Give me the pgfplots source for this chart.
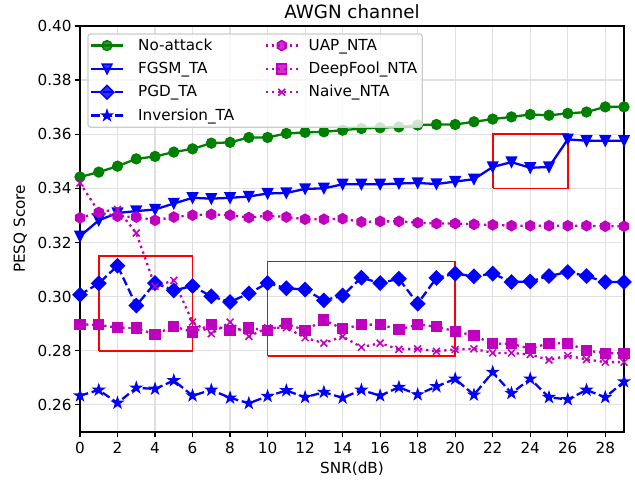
\documentclass[border=0pt]{standalone}
\usepackage{fontspec}
\setmainfont{DejaVu Sans}
\usepackage{pgfplots}
\pgfplotsset{compat=1.18}

\definecolor{mgreen}{rgb}{0,0.5,0}
\definecolor{mblue}{rgb}{0,0,1}
\definecolor{mmag}{rgb}{0.75,0,0.75}
\definecolor{gridc}{rgb}{0.88,0.88,0.88}
\definecolor{legc}{rgb}{0.8,0.8,0.8}

\pgfdeclareplotmark{fstar}{%
  \pgfpathmoveto{\pgfpointpolar{90}{\pgfplotmarksize}}%
  \pgfpathlineto{\pgfpointpolar{126}{0.382\pgfplotmarksize}}%
  \pgfpathlineto{\pgfpointpolar{162}{\pgfplotmarksize}}%
  \pgfpathlineto{\pgfpointpolar{198}{0.382\pgfplotmarksize}}%
  \pgfpathlineto{\pgfpointpolar{234}{\pgfplotmarksize}}%
  \pgfpathlineto{\pgfpointpolar{270}{0.382\pgfplotmarksize}}%
  \pgfpathlineto{\pgfpointpolar{306}{\pgfplotmarksize}}%
  \pgfpathlineto{\pgfpointpolar{342}{0.382\pgfplotmarksize}}%
  \pgfpathlineto{\pgfpointpolar{18}{\pgfplotmarksize}}%
  \pgfpathlineto{\pgfpointpolar{54}{0.382\pgfplotmarksize}}%
  \pgfpathclose\pgfusepathqfillstroke}
\pgfdeclareplotmark{hexa}{%
  \pgfpathmoveto{\pgfpointpolar{90}{\pgfplotmarksize}}%
  \pgfpathlineto{\pgfpointpolar{150}{\pgfplotmarksize}}%
  \pgfpathlineto{\pgfpointpolar{210}{\pgfplotmarksize}}%
  \pgfpathlineto{\pgfpointpolar{270}{\pgfplotmarksize}}%
  \pgfpathlineto{\pgfpointpolar{330}{\pgfplotmarksize}}%
  \pgfpathlineto{\pgfpointpolar{30}{\pgfplotmarksize}}%
  \pgfpathclose\pgfusepathqfillstroke}
\pgfdeclareplotmark{tdown}{%
  \pgfpathmoveto{\pgfpoint{0pt}{-\pgfplotmarksize}}%
  \pgfpathlineto{\pgfpoint{-\pgfplotmarksize}{\pgfplotmarksize}}%
  \pgfpathlineto{\pgfpoint{\pgfplotmarksize}{\pgfplotmarksize}}%
  \pgfpathclose\pgfusepathqfillstroke}

\pgfplotsset{
  sNo/.style={color=mgreen, solid, line width=1.65bp, mark=*, mark size=3.5bp, mark options={solid, fill=mgreen, line width=1.1bp}},
  sFG/.style={color=mblue, solid, line width=1.65bp, mark=tdown, mark size=3.5bp, mark options={solid, fill=mblue, line width=1.1bp}},
  sPG/.style={color=mblue, dash pattern=on 6.1bp off 2.64bp, line width=1.65bp, mark=square*, mark size=3.5bp, mark options={solid, rotate=45, fill=mblue, line width=1.1bp}},
  sIN/.style={color=mblue, dash pattern=on 6.1bp off 2.64bp, line width=1.65bp, mark=fstar, mark size=3.6bp, mark options={solid, fill=mblue, line width=1.1bp}},
  sUA/.style={color=mmag, dash pattern=on 1.65bp off 2.72bp, line width=1.65bp, mark=hexa, mark size=3.6bp, mark options={solid, fill=mmag, line width=1.1bp}},
  sDF/.style={color=mmag, dash pattern=on 1.65bp off 2.72bp, line width=1.65bp, mark=square*, mark size=3.5bp, mark options={solid, fill=mmag, line width=1.1bp}},
  sNA/.style={color=mmag, dash pattern=on 1.65bp off 2.72bp, line width=1.65bp, mark=x, mark size=3.5bp, mark options={solid, line width=1.1bp}},
}

\begin{document}
\begin{tikzpicture}
\begin{axis}[
  scale only axis,
  width=391.7bp, height=292.3bp,
  xmin=0, xmax=29, ymin=0.25, ymax=0.40,
  clip=false,
  xtick={0,2,...,28},
  ytick={0.26,0.28,0.30,0.32,0.34,0.36,0.38,0.40},
  scaled y ticks=false,
  yticklabel style={inner xsep=2bp, /pgf/number format/.cd, fixed, fixed zerofill, precision=2},
  /pgf/number format/assume math mode=true,
  tick align=outside, xtick pos=left, ytick pos=left,
  major tick length=3.85bp,
  tick style={black, line width=0.88bp},
  axis line style={black, line width=0.88bp},
  grid=major, major grid style={gridc, line width=0.88bp},
  font=\fontsize{11}{13}\selectfont,
  title={AWGN channel},
  every axis title/.style={at={(axis description cs:0.5,1)}, anchor=base, yshift=5.2bp, font=\fontsize{13.2}{15}\selectfont},
  xlabel={SNR(dB)},
  xlabel style={at={(axis description cs:0.5,-0.1016)}, anchor=base},
  ylabel={PESQ Score},
  ylabel style={at={(axis description cs:-0.1011,0.5)}, anchor=base},
  legend columns=2,
  legend cell align=left,
  legend image code/.code={\draw[sharp corners, mark repeat=2, mark phase=2, #1] plot coordinates {(0bp,0bp) (11.4bp,0bp) (22.8bp,0bp)}; \path (28bp,0bp);},
  legend style={at={(axis description cs:0.0135,0.982)}, anchor=north west,
    draw=legc, line width=0.88bp, rounded corners=2bp, fill=white, fill opacity=0.8, text opacity=1,
    font=\fontsize{11}{13}\selectfont, inner sep=1.5bp, row sep=3bp,
    /tikz/every even column/.append style={column sep=20bp}},
]

\addplot[sNo, forget plot] coordinates {(0,0.3442)(1,0.3460)(2,0.3482)(3,0.3509)(4,0.3518)(5,0.3534)(6,0.3546)(7,0.3567)(8,0.3570)(9,0.3588)(10,0.3588)(11,0.3603)(12,0.3607)(13,0.3609)(14,0.3615)(15,0.3621)(16,0.3624)(17,0.3627)(18,0.3634)(19,0.3636)(20,0.3636)(21,0.3646)(22,0.3656)(23,0.3664)(24,0.3673)(25,0.3670)(26,0.3677)(27,0.3682)(28,0.3701)(29,0.3701)};

\addplot[sFG, forget plot] coordinates {(0,0.3223)(1,0.3282)(2,0.3309)(3,0.3316)(4,0.3322)(5,0.3344)(6,0.3365)(7,0.3362)(8,0.3365)(9,0.3370)(10,0.3381)(11,0.3383)(12,0.3398)(13,0.3400)(14,0.3415)(15,0.3415)(16,0.3415)(17,0.3418)(18,0.3420)(19,0.3416)(20,0.3425)(21,0.3434)(22,0.3479)(23,0.3497)(24,0.3476)(25,0.3479)(26,0.3581)(27,0.3576)(28,0.3576)(29,0.3576)};

\addplot[sPG, forget plot] coordinates {(0,0.3007)(1,0.3049)(2,0.3114)(3,0.2967)(4,0.3050)(5,0.3023)(6,0.3039)(7,0.3001)(8,0.2980)(9,0.3012)(10,0.3050)(11,0.3031)(12,0.3026)(13,0.2986)(14,0.3004)(15,0.3070)(16,0.3050)(17,0.3066)(18,0.2974)(19,0.3069)(20,0.3085)(21,0.3075)(22,0.3085)(23,0.3054)(24,0.3056)(25,0.3076)(26,0.3091)(27,0.3076)(28,0.3054)(29,0.3054)};

\addplot[sIN, forget plot] coordinates {(0,0.2634)(1,0.2655)(2,0.2607)(3,0.2663)(4,0.2659)(5,0.2690)(6,0.2634)(7,0.2655)(8,0.2626)(9,0.2606)(10,0.2632)(11,0.2653)(12,0.2628)(13,0.2647)(14,0.2626)(15,0.2655)(16,0.2634)(17,0.2665)(18,0.2638)(19,0.2668)(20,0.2696)(21,0.2637)(22,0.2721)(23,0.2643)(24,0.2696)(25,0.2628)(26,0.2620)(27,0.2655)(28,0.2628)(29,0.2686)};

\addplot[sUA, forget plot] coordinates {(0,0.3291)(1,0.3311)(2,0.3297)(3,0.3294)(4,0.3282)(5,0.3294)(6,0.3301)(7,0.3304)(8,0.3301)(9,0.3292)(10,0.3299)(11,0.3294)(12,0.3286)(13,0.3286)(14,0.3288)(15,0.3276)(16,0.3278)(17,0.3278)(18,0.3273)(19,0.3270)(20,0.3270)(21,0.3267)(22,0.3265)(23,0.3262)(24,0.3262)(25,0.3262)(26,0.3262)(27,0.3262)(28,0.3260)(29,0.3260)};

\addplot[sDF, forget plot] coordinates {(0,0.2897)(1,0.2896)(2,0.2885)(3,0.2884)(4,0.2860)(5,0.2890)(6,0.2869)(7,0.2896)(8,0.2875)(9,0.2884)(10,0.2875)(11,0.2900)(12,0.2875)(13,0.2914)(14,0.2881)(15,0.2896)(16,0.2897)(17,0.2878)(18,0.2897)(19,0.2889)(20,0.2872)(21,0.2856)(22,0.2826)(23,0.2826)(24,0.2807)(25,0.2828)(26,0.2828)(27,0.2801)(28,0.2791)(29,0.2791)};

\addplot[sNA, forget plot] coordinates {(0,0.3420)(1,0.3313)(2,0.3322)(3,0.3235)(4,0.3038)(5,0.3060)(6,0.2906)(7,0.2863)(8,0.2906)(9,0.2853)(10,0.2885)(11,0.2885)(12,0.2848)(13,0.2828)(14,0.2853)(15,0.2813)(16,0.2828)(17,0.2805)(18,0.2807)(19,0.2798)(20,0.2805)(21,0.2807)(22,0.2792)(23,0.2792)(24,0.2786)(25,0.2766)(26,0.2782)(27,0.2768)(28,0.2758)(29,0.2758)};

\addplot[red, line width=1.2bp, mark=none, forget plot] coordinates {(1,0.28)(6,0.28)(6,0.315)(1,0.315)(1,0.28)};
\addplot[red, line width=1.2bp, mark=none, forget plot] coordinates {(10,0.278)(20,0.278)(20,0.313)(10,0.313)(10,0.278)};
\addplot[red, line width=1.2bp, mark=none, forget plot] coordinates {(22,0.34)(26,0.34)(26,0.36)(22,0.36)(22,0.34)};

\addlegendimage{sNo}\addlegendentry{\hspace{3bp}No-attack}
\addlegendimage{sUA}\addlegendentry{UAP\_NTA}
\addlegendimage{sFG}\addlegendentry{\hspace{3bp}FGSM\_TA}
\addlegendimage{sDF}\addlegendentry{DeepFool\_NTA}
\addlegendimage{sPG}\addlegendentry{\hspace{3bp}PGD\_TA}
\addlegendimage{sNA}\addlegendentry{Naive\_NTA}
\addlegendimage{sIN}\addlegendentry{\hspace{3bp}Inversion\_TA}
\end{axis}
\pgfresetboundingbox
\path ([shift={(-57.6bp,-35.3bp)}]current axis.south west) rectangle ([shift={(7.9bp,18.7bp)}]current axis.north east);
\end{tikzpicture}
\end{document}
